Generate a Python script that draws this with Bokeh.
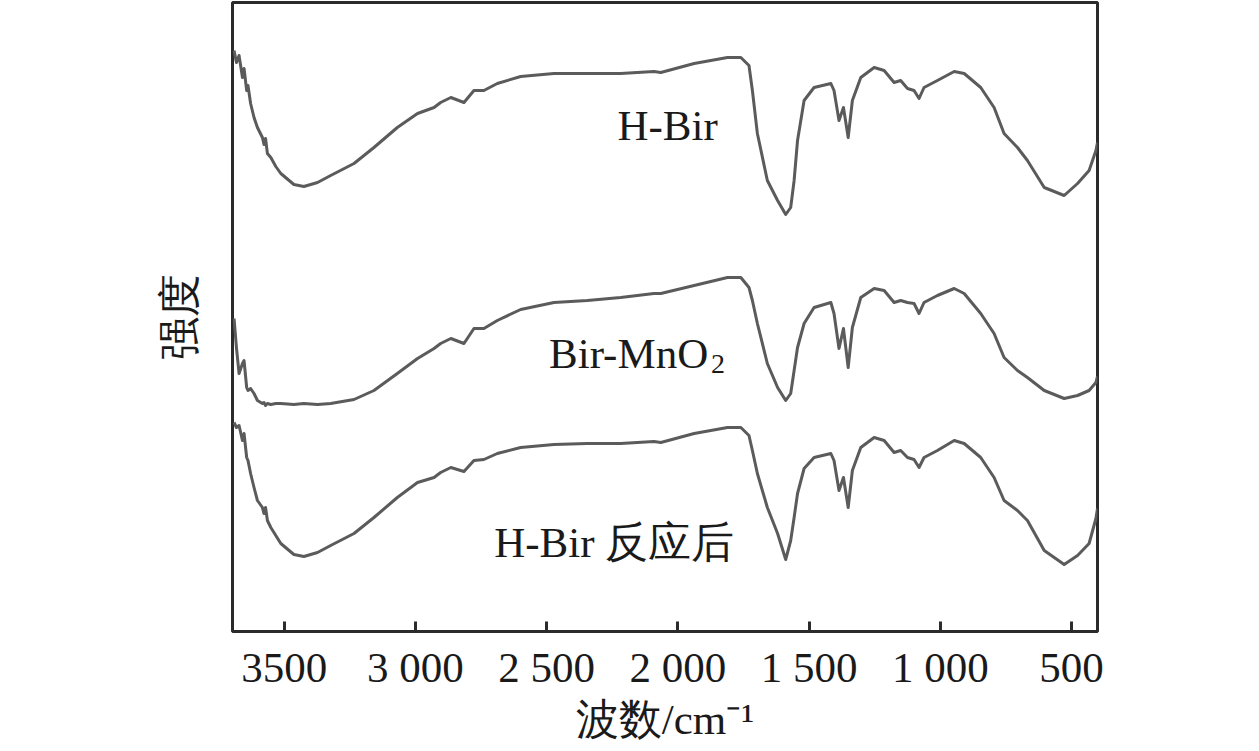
from bokeh.plotting import figure
from bokeh.models import Range1d, FixedTicker, Label
from bokeh.embed import file_html
from bokeh.resources import INLINE

# ---- data (wavenumber grid in cm^-1, intensities in arbitrary units) ----
wavenumber = [3691, 3682, 3672, 3659, 3653, 3643, 3638, 3628, 3615, 3602, 3583, 3577, 3571, 3564, 3551, 3532, 3513,
              3463, 3425, 3373, 3323, 3234, 3158, 3069, 2992, 2929, 2904, 2865, 2815, 2777, 2739, 2688, 2599,
              2472, 2345, 2218, 2091, 2065, 1938, 1811, 1760, 1729, 1716, 1697, 1659, 1620, 1589, 1570, 1557,
              1544, 1519, 1481, 1417, 1405, 1386, 1369, 1351, 1335, 1303, 1252, 1214, 1176, 1151, 1125, 1100,
              1081, 1062, 1011, 947, 909, 846, 795, 757, 706, 668, 604, 528, 477, 433, 407, 401]

h_bir = [581, 569, 576, 554, 563, 541, 546, 528, 514, 504, 494, 487, 493, 478, 474, 465, 458,
         447, 445, 449, 456, 468, 484, 504, 518, 524, 529, 534, 529, 541, 541, 548, 555,
         558, 558, 558, 560, 559, 568, 574, 574, 566, 541, 498, 451, 431, 417, 424, 451,
         491, 531, 544, 548, 541, 511, 524, 494, 531, 554, 564, 561, 549, 551, 543, 541,
         533, 544, 551, 560, 558, 544, 524, 498, 484, 471, 444, 436, 448, 461, 481, 489]

bir_mno2 = [313, 284, 258, 268, 271, 244, 241, 243, 238, 231, 228, 229, 226, 228, 227, 228, 228,
            227, 228, 227, 228, 232, 241, 258, 273, 283, 288, 293, 288, 303, 303, 311, 322,
            329, 331, 334, 338, 338, 346, 354, 354, 344, 331, 308, 268, 244, 231, 238, 261,
            284, 308, 324, 329, 318, 283, 303, 264, 304, 334, 343, 341, 329, 331, 329, 328,
            318, 329, 336, 343, 338, 318, 298, 274, 261, 254, 241, 233, 236, 241, 249, 255]

h_bir_after = [209, 204, 206, 191, 198, 174, 171, 158, 144, 131, 124, 118, 124, 111, 104, 96, 88,
               77, 75, 79, 86, 98, 114, 134, 149, 154, 159, 164, 160, 171, 172, 178, 184,
               187, 188, 188, 190, 189, 198, 204, 204, 196, 181, 158, 124, 98, 72, 91, 114,
               138, 163, 174, 178, 171, 141, 154, 124, 161, 184, 194, 191, 179, 181, 174, 172,
               164, 174, 181, 191, 188, 174, 154, 131, 121, 111, 81, 67, 76, 88, 113, 123]

tick_values = [3500, 3000, 2500, 2000, 1500, 1000, 500]
tick_labels = ["3500", "3 000", "2 500", "2 000", "1 500", "1 000", "500"]

SERIF = "Liberation Serif"
LINE_COLOR = "#5b5b5b"
TEXT_COLOR = "#1a1a1a"

p = figure(width=1255, height=748, output_backend="svg", toolbar_location=None,
           x_range=Range1d(3697, 401), y_range=Range1d(0, 629),
           min_border_left=232, min_border_right=158, min_border_top=2, min_border_bottom=117)

p.background_fill_color = "white"
p.border_fill_color = "white"
p.grid.visible = False
p.outline_line_color = "#2b2b2b"
p.outline_line_width = 3

for series in (h_bir, bir_mno2, h_bir_after):
    p.line(wavenumber, series, line_color=LINE_COLOR, line_width=3, line_join="round")

# x axis
xa = p.xaxis[0]
xa.ticker = FixedTicker(ticks=tick_values)
xa.major_label_overrides = {v: s for v, s in zip(tick_values, tick_labels)}
xa.major_tick_in = 10
xa.major_tick_out = 0
xa.major_tick_line_width = 3
xa.major_tick_line_color = "#2b2b2b"
xa.minor_tick_line_color = None
xa.axis_line_color = None
xa.major_label_standoff = 12
xa.major_label_text_font = SERIF
xa.major_label_text_font_size = "43px"
xa.major_label_text_color = TEXT_COLOR
xa.axis_label = "波数/cm\u207b\u00b9"
xa.axis_label_text_font = SERIF
xa.axis_label_text_font_size = "43px"
xa.axis_label_text_font_style = "normal"
xa.axis_label_text_color = TEXT_COLOR
xa.axis_label_standoff = 2

# y axis (label only)
ya = p.yaxis[0]
ya.ticker = FixedTicker(ticks=[])
ya.axis_line_color = None
ya.major_tick_line_color = None
ya.minor_tick_line_color = None
ya.major_label_text_font_size = "0px"
ya.axis_label = "强度"
ya.axis_label_text_font = SERIF
ya.axis_label_text_font_size = "43px"
ya.axis_label_text_font_style = "normal"
ya.axis_label_text_color = TEXT_COLOR
ya.axis_label_standoff = 30

# curve labels
def add_label(x, y, text, size="43px", x_offset=0):
    p.add_layout(Label(x=x, y=y, text=text, x_offset=x_offset,
                       text_font=SERIF, text_font_size=size, text_color=TEXT_COLOR,
                       text_align="left", text_baseline="alphabetic"))

add_label(2230, 506, "H-Bir")
add_label(2491, 278, "Bir-MnO")
add_label(2491, 268, "2", size="28px", x_offset=162)
add_label(2700, 89, "H-Bir 反应后")

open("out.html", "w").write(file_html(p, INLINE))
